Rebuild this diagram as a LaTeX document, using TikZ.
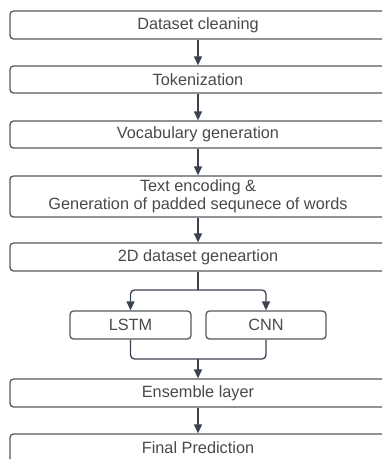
\documentclass[tikz,border=0pt]{standalone}
\usepackage{fontspec}
\setmainfont{Liberation Sans}
\usetikzlibrary{arrows.meta}
\definecolor{boxline}{HTML}{55585E}
\definecolor{arrline}{HTML}{3B4350}
\definecolor{txt}{HTML}{4A4A4A}
\begin{document}
\begin{tikzpicture}[x=1pt,y=-1pt,
  stepbox/.style={draw=boxline,line width=1.3pt,rounded corners=3.5pt,fill=white,
    text=txt,inner sep=0pt,align=center,minimum width=376pt,minimum height=28pt,
    font=\fontsize{16.3}{18}\selectfont},
  smallbox/.style={stepbox,minimum width=121pt},
  conn/.style={draw=arrline,line width=1.3pt,rounded corners=4pt},
  arr/.style={conn,-{Triangle[width=8pt,length=9pt]}}]
\clip (0,0) rectangle (382,459);
\fill[white] (0,0) rectangle (382,459);
\node[stepbox] (b1) at (198,25) {Dataset cleaning};
\node[stepbox,minimum height=27pt] (b2) at (198,79.5) {Tokenization};
\node[stepbox,minimum height=27pt] (b3) at (198,134.5) {Vocabulary generation};
\node[stepbox,minimum height=41pt] (b4) at (198,196.5) {Text encoding \&\\Generation of padded sequnece of words};
\node[stepbox] (b5) at (198,257) {2D dataset geneartion};
\node[smallbox] (lstm) at (130.5,325) {LSTM};
\node[smallbox,minimum width=120pt] (cnn) at (266,325) {CNN};
\node[stepbox] (ens) at (198,393) {Ensemble layer};
\node[stepbox] (fin) at (198,448) {Final Prediction};
\coordinate (j1) at (198,290);
\coordinate (j2) at (198,359);
\draw[arr] (b1) -- (b2);
\draw[arr] (b2) -- (b3);
\draw[arr] (b3) -- (b4);
\draw[arr] (b4) -- (b5);
\draw[conn] (b5.south) -- (j1);
\draw[arr] (j1) -| (lstm.north);
\draw[arr] (j1) -| (cnn.north);
\draw[conn] (lstm.south) |- (j2) -| (cnn.south);
\draw[arr] (j2) -- (ens.north);
\draw[arr] (ens) -- (fin);
\end{tikzpicture}
\end{document}
